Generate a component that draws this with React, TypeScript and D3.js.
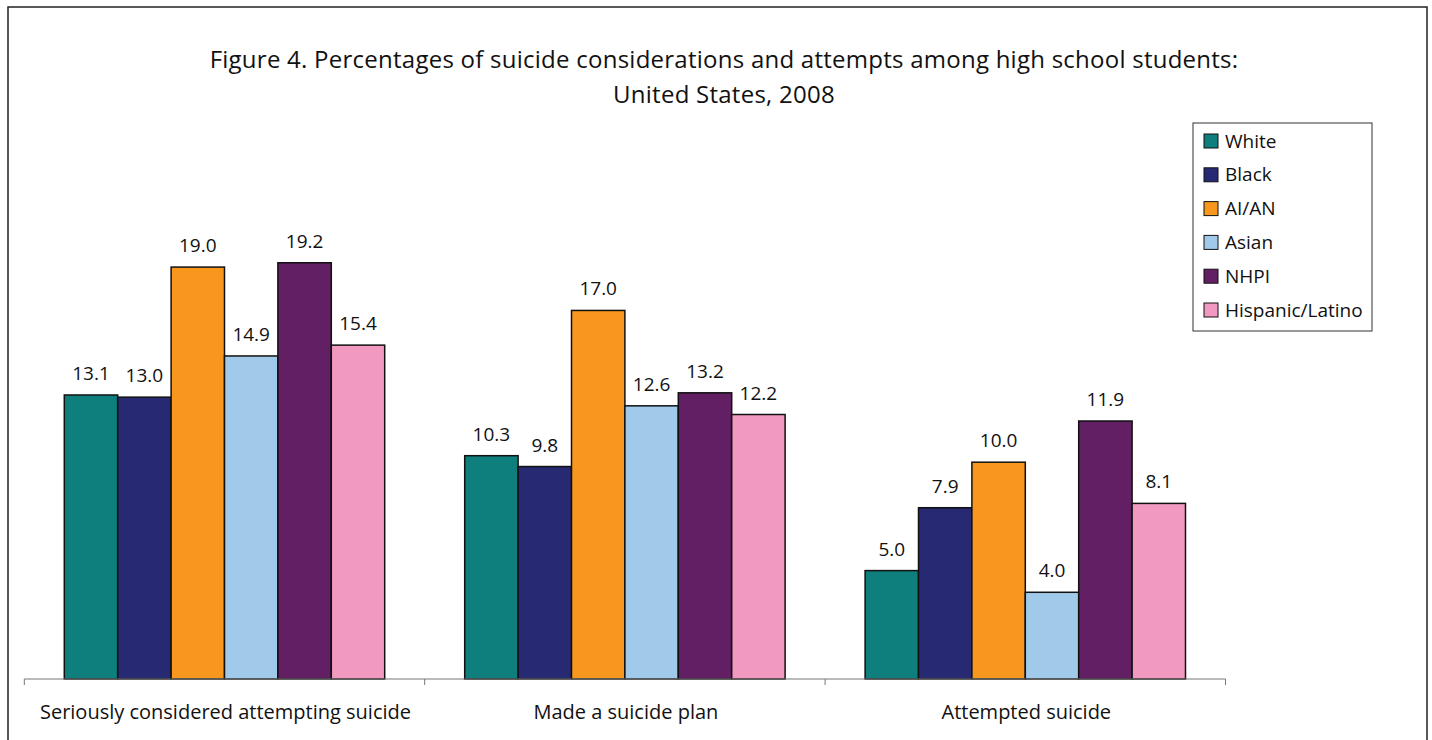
import React from "react";
import * as d3 from "d3";

const categories = ["Seriously considered attempting suicide", "Made a suicide plan", "Attempted suicide"];
const groups = ["White", "Black", "AI/AN", "Asian", "NHPI", "Hispanic/Latino"];
const white = [13.1, 10.3, 5.0];
const black = [13.0, 9.8, 7.9];
const aian = [19.0, 17.0, 10.0];
const asian = [14.9, 12.6, 4.0];
const nhpi = [19.2, 13.2, 11.9];
const hispanic = [15.4, 12.2, 8.1];
const seriesValues = [white, black, aian, asian, nhpi, hispanic];
const colors = ["#0e7f7d", "#272a72", "#f7971e", "#a0c9ea", "#621f63", "#f299c2"];
const titleLines = [
  "Figure 4. Percentages of suicide considerations and attempts among high school students:",
  "United States, 2008",
];

const W = 1432;
const H = 740;
const FONT = "'Open Sans', sans-serif";

export default function App() {
  const x0 = d3.scaleBand<string>().domain(categories).range([24.3, 1225.5]).paddingInner(0).paddingOuter(0);
  const x1 = d3.scaleBand<string>().domain(groups).range([40, x0.bandwidth() - 40]).padding(0);
  const y = d3.scaleLinear().domain([0, 25]).range([679, 679 - 25 * 21.68]);

  const tickXs = [...categories.map((c) => x0(c)!), x0.range()[1]];

  return (
    <svg width={W} height={H} style={{ position: "absolute", left: 0, top: 0 }} fontFamily={FONT}>
      <rect x={0} y={0} width={W} height={H} fill="#fff" />
      <rect x={8} y={7} width={1419} height={H + 10} fill="none" stroke="#222" strokeWidth={1.5} />

      {titleLines.map((t, i) => (
        <text key={i} x={724} y={68 + i * 35} textAnchor="middle" fontSize={24} fill="#111" letterSpacing={0.25}>
          {t}
        </text>
      ))}

      {/* bars */}
      {categories.map((c, ci) => (
        <g key={c} transform={`translate(${x0(c)},0)`}>
          {groups.map((g, gi) => {
            const v = seriesValues[gi][ci];
            const bx = x1(g)!;
            return (
              <g key={g}>
                <rect
                  x={bx}
                  y={y(v)}
                  width={x1.bandwidth()}
                  height={y(0) - y(v)}
                  fill={colors[gi]}
                  stroke="#111"
                  strokeWidth={1.5}
                />
                <text x={bx + x1.bandwidth() / 2} y={y(v) - 15} textAnchor="middle" fontSize={19} fill="#111">
                  {v.toFixed(1)}
                </text>
              </g>
            );
          })}
        </g>
      ))}

      {/* category axis */}
      <line x1={x0.range()[0]} x2={x0.range()[1]} y1={679} y2={679} stroke="#777" strokeWidth={1} />
      {tickXs.map((tx, i) => (
        <line key={i} x1={tx} x2={tx} y1={679} y2={685} stroke="#777" strokeWidth={1} />
      ))}
      {categories.map((c) => (
        <text key={c} x={x0(c)! + x0.bandwidth() / 2 + 1} y={719} textAnchor="middle" fontSize={20} fill="#111">
          {c}
        </text>
      ))}

      {/* legend */}
      <rect x={1193} y={123} width={179} height={208} fill="#fff" stroke="#333" strokeWidth={1} />
      {groups.map((g, i) => {
        const cy = 141 + i * 33.8;
        return (
          <g key={g}>
            <rect x={1204} y={cy - 7} width={14} height={14} fill={colors[i]} stroke="#111" strokeWidth={1} />
            <text x={1225} y={cy + 6.5} fontSize={19} fill="#111">
              {g}
            </text>
          </g>
        );
      })}
    </svg>
  );
}
